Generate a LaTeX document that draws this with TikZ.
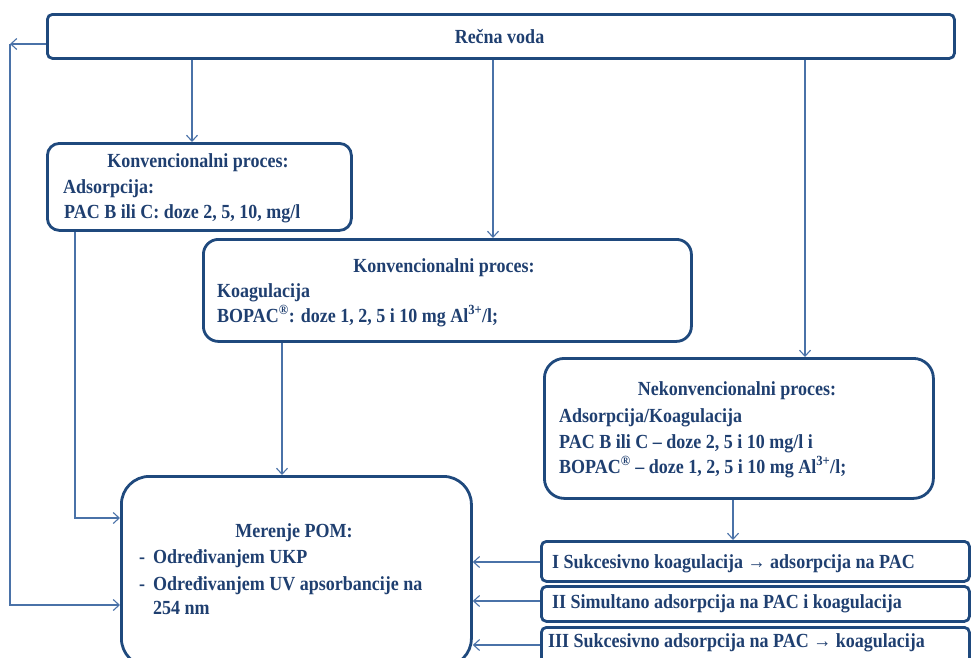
\documentclass[tikz,border=0pt]{standalone}
\usepackage{fontspec}
\setmainfont{Liberation Serif}[FakeStretch=0.9]
\usetikzlibrary{arrows.meta}
\definecolor{boxc}{HTML}{1F497D}
\definecolor{txtc}{HTML}{1F3F70}
\definecolor{arrc}{HTML}{4A72A8}
\begin{document}
\begin{tikzpicture}[x=1pt,y=-1pt,
  box/.style={draw=boxc, line width=2.8pt, rounded corners=#1, inner sep=0pt, anchor=north west},
  box/.default=10pt,
  txt/.style={text=txtc, font=\fontsize{20}{22}\selectfont\bfseries, inner sep=0pt, anchor=base west},
  ctxt/.style={txt, anchor=base},
  conn/.style={draw=arrc, line width=1.1pt},
  arr/.style={conn, -{Straight Barb[length=6pt,width=11pt]}}]
\useasboundingbox (0,0) rectangle (971,657);
\clip (0,0) rectangle (971,657);
% boxes
\node[box=5pt, minimum width=907pt, minimum height=44pt] (top) at (46,13) {};
\node[box=12pt, minimum width=304pt, minimum height=87pt] (b1) at (46,142) {};
\node[box=15pt, minimum width=488pt, minimum height=102pt] (b2) at (202,238) {};
\node[box=20pt, minimum width=389pt, minimum height=140pt] (b3) at (543,357) {};
\node[box=28pt, minimum width=350pt, minimum height=190pt] (mer) at (120,475) {};
\node[box=5pt, minimum width=428pt, minimum height=40pt] (bI) at (540,540) {};
\node[box=5pt, minimum width=428pt, minimum height=35pt] (bII) at (540,585) {};
\node[box=5pt, minimum width=428pt, minimum height=44pt] (bIII) at (540,626) {};
% texts
\node[ctxt] (t0) at (499.5,43) {Rečna voda};
\node[ctxt] (t1a) at (198,167) {Konvencionalni proces:};
\node[txt] (t1b) at (63,193) {Adsorpcija:};
\node[txt] (t1c) at (64,218) {PAC B ili C: doze 2, 5, 10, mg/l};
\node[ctxt] (t2a) at (444,272) {Konvencionalni proces:};
\node[txt] (t2b) at (217,297) {Koagulacija};
\node[txt] (t2c) at (217,322) {BOPAC\textsuperscript{®}: doze 1, 2, 5 i 10 mg Al\textsuperscript{3+}/l;};
\node[ctxt] (t3a) at (737,395) {Nekonvencionalni proces:};
\node[txt] (t3b) at (559,422) {Adsorpcija/Koagulacija};
\node[txt] (t3c) at (559,448) {PAC B ili C -- doze 2, 5 i 10 mg/l i};
\node[txt] (t3d) at (559,473) {BOPAC\textsuperscript{®} -- doze 1, 2, 5 i 10 mg Al\textsuperscript{3+}/l;};
\node[ctxt] (t4a) at (294,537) {Merenje POM:};
\node[txt] (t4b) at (139,563) {-};
\node[txt] (t4c) at (153,563) {Određivanjem UKP};
\node[txt] (t4d) at (139,590) {-};
\node[txt] (t4e) at (153,590) {Određivanjem UV apsorbancije na};
\node[txt] (t4f) at (153,614) {254 nm};
\node[txt] (t5) at (552,568) {I Sukcesivno koagulacija → adsorpcija na PAC};
\node[txt] (t6) at (552,608) {II Simultano adsorpcija na PAC i koagulacija};
\node[txt] (t7) at (548,647) {III Sukcesivno adsorpcija na PAC → koagulacija};
% connectors
\coordinate (lc) at (10,44);
\draw[arr] (top.west |- lc) -- (lc);
\draw[arr] (lc) -- (10,605) -- (mer.west |- 0,605);
\draw[arr] (192,0 |- top.south) -- (192,0 |- b1.north);
\draw[arr] (493,0 |- top.south) -- (493,0 |- b2.north);
\draw[arr] (805,0 |- top.south) -- (805,0 |- b3.north);
\draw[arr] (75,0 |- b1.south) -- (75,518) -- (mer.west |- 0,518);
\draw[arr] (282,0 |- b2.south) -- (282,0 |- mer.north);
\draw[arr] (733,0 |- b3.south) -- (733,0 |- bI.north);
\draw[arr] (bI.west |- 0,562) -- (mer.east |- 0,562);
\draw[arr] (bII.west |- 0,601) -- (mer.east |- 0,601);
\draw[arr] (bIII.west |- 0,645) -- (mer.east |- 0,645);
\end{tikzpicture}
\end{document}
